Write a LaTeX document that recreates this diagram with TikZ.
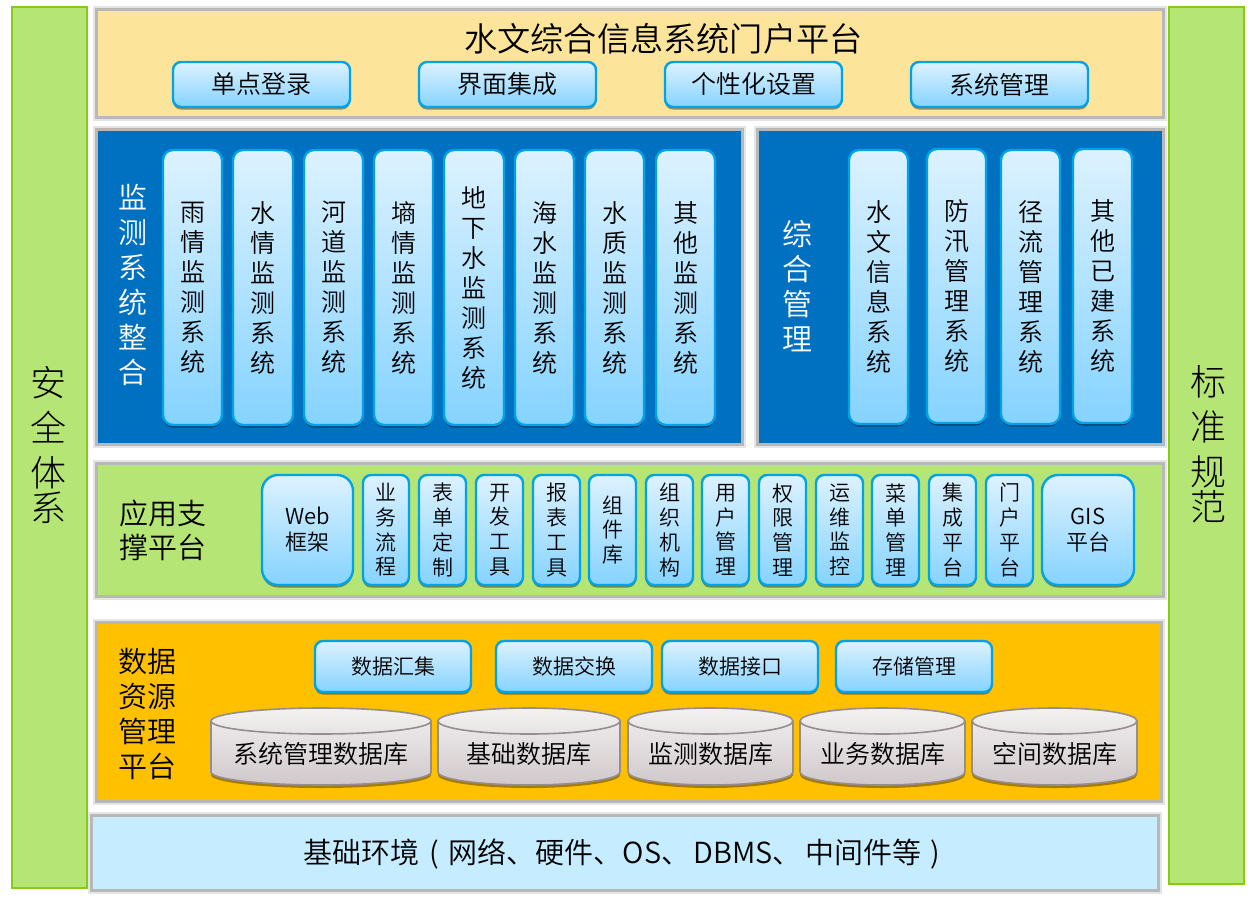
\documentclass[tikz,border=0pt]{standalone}
\usepackage{fontspec}
\setmainfont{Noto Sans CJK SC DemiLight}
\newfontfamily\thincjk{Noto Sans CJK SC Light}
\usetikzlibrary{shadows}
\definecolor{grn}{HTML}{B5E575}
\definecolor{grnb}{HTML}{84CC16}
\definecolor{yel}{HTML}{FCE59A}
\definecolor{blu}{HTML}{0070C0}
\definecolor{org}{HTML}{FFC000}
\definecolor{sky}{HTML}{C5ECFF}
\definecolor{frm}{HTML}{B8B8B8}
\definecolor{btop}{HTML}{DDF2FF}
\definecolor{bbot}{HTML}{85D3FF}
\definecolor{bline}{HTML}{00A3E8}
\definecolor{ctop}{HTML}{F3F1F1}
\definecolor{cbot}{HTML}{D0C8CA}
\definecolor{cline}{HTML}{958D90}
\newcommand{\fs}[2]{\fontsize{#1}{#2}\selectfont}
\newcommand{\pbx}[7]{%
  \pgfmathsetmacro{\pw}{#5-#3}\pgfmathsetmacro{\ph}{#6-#4}%
  \pgfmathsetmacro{\pcx}{(#3+#5)/2}\pgfmathsetmacro{\pcy}{(#4+#6)/2}%
  \node[#2,minimum width=\pw pt,minimum height=\ph pt] (#1) at (\pcx,\pcy) {#7};}
\newcommand{\cyl}[6]{%
  \pgfmathsetmacro{\prx}{(#3-#2)/2}\pgfmathsetmacro{\pcx}{(#2+#3)/2}%
  \path[cylbody,drop shadow={shadow xshift=0pt,shadow yshift=-3pt,opacity=.35,fill=black}]
    (#2,#4+13) arc[start angle=180,end angle=0,x radius=\prx pt,y radius=13pt]
    -- (#3,#5-13) arc[start angle=0,end angle=-180,x radius=\prx pt,y radius=13pt] -- cycle;
  \draw[draw=cline,line width=1.6pt] (#2,#4+13) arc[start angle=180,end angle=360,x radius=\prx pt,y radius=13pt];
  \node[cyltext] (#1) at (\pcx,754) {#6};}
\tikzset{
  frame/.style={draw=frm,line width=3pt,inner sep=0pt,outer sep=0pt,preaction={draw=black,opacity=.10,line width=7pt}},
  side/.style={draw=grnb,fill=grn,line width=2pt,inner sep=0pt,outer sep=0pt},
  sidetext/.style={inner sep=0pt,align=center,font=\thincjk\fs{36}{45}},
  btn/.style={draw=bline,line width=2.4pt,top color=btop,bottom color=bbot,rounded corners=#1,inner sep=0pt,outer sep=0pt,align=center,
    drop shadow={shadow xshift=0pt,shadow yshift=-2.5pt,opacity=.4,fill=black}},
  btn/.default=8pt,
  ttl/.style={inner sep=0pt,align=center},
  cylbody/.style={draw=cline,line width=1.6pt,top color=ctop,bottom color=cbot},
  cyltext/.style={inner sep=0pt,font=\fs{25}{30}},
  col/.style={btn=10pt,font=\fs{25}{30}},
  mini/.style={btn=8pt,font=\fs{21}{24.7}},
  big/.style={btn=16pt,font=\fs{22}{26}},
}
\begin{document}
\begin{tikzpicture}[x=1pt,y=-1pt]
\useasboundingbox (0,0) rectangle (1256,900);
\fill[white] (0,0) rectangle (1256,900);
% side bars
\pbx{safe}{side}{12}{7}{87}{888}{}
\node[sidetext] (safet) at (48,445.5) {安\\全\\体\\[-10pt]系};
\pbx{std}{side}{1169}{7}{1244}{884}{}
\node[sidetext] (stdt) at (1208,444.5) {标\\准\\规\\[-10pt]范};
% portal
\pbx{portal}{frame,fill=yel}{96}{9.5}{1163.5}{117.5}{}
\node[ttl,font=\fs{33.2}{38}] (portalt) at (663.5,39) {水文综合信息系统门户平台};
\pbx{p1}{btn,font=\fs{25}{30}}{173}{62}{350}{107}{\raisebox{-1pt}{单点登录}}
\pbx{p2}{btn,font=\fs{25}{30}}{419}{62}{596}{107}{\raisebox{-1pt}{界面集成}}
\pbx{p3}{btn,font=\fs{25}{30}}{665}{62}{842}{107}{\raisebox{-1pt}{个性化设置}}
\pbx{p4}{btn,font=\fs{25}{30}}{911}{62}{1088}{107}{\raisebox{-1pt}{系统管理}}
% monitoring
\pbx{mon}{frame,fill=blu}{96}{129.5}{742}{444.5}{}
\node[ttl,white,font=\fs{29}{35}] (mont) at (133,285) {监\\测\\系\\统\\整\\合};
\pbx{m1}{col}{163}{150}{222}{425}{雨\\情\\监\\测\\系\\统}
\pbx{m2}{col}{233}{150}{293}{425}{水\\情\\监\\测\\系\\统}
\pbx{m3}{col}{304}{150}{363}{425}{河\\道\\监\\测\\系\\统}
\pbx{m4}{col}{374}{150}{433}{425}{墒\\情\\监\\测\\系\\统}
\pbx{m5}{col}{444}{150}{504}{425}{地\\下\\水\\监\\测\\系\\统}
\pbx{m6}{col}{515}{150}{574}{425}{海\\水\\监\\测\\系\\统}
\pbx{m7}{col}{585}{150}{644}{425}{水\\质\\监\\测\\系\\统}
\pbx{m8}{col}{656}{150}{715}{425}{其\\他\\监\\测\\系\\统}
% management
\pbx{mgt}{frame,fill=blu}{757}{129.5}{1163.5}{444.5}{}
\node[ttl,white,font=\fs{30}{35}] (mgtt) at (797,286) {综\\合\\管\\理};
\pbx{g1}{col}{849}{150}{908}{424}{水\\文\\信\\息\\系\\统}
\pbx{g2}{col}{927}{149}{986}{423}{防\\汛\\管\\理\\系\\统}
\pbx{g3}{col}{1001}{150}{1060}{424}{径\\流\\管\\理\\系\\统}
\pbx{g4}{col}{1073}{149}{1132}{423}{其\\他\\已\\建\\系\\统}
% support
\pbx{sup}{frame,fill=grn}{96}{463.5}{1163.5}{596.5}{}
\node[ttl,font=\fs{29}{34}] (supt) at (163,530) {应用支\\撑平台};
\pbx{s0}{big}{262}{475}{353}{585}{Web\\框架}
\pbx{s1}{mini}{363}{475}{409}{585}{业\\务\\流\\程}
\pbx{s2}{mini}{419}{475}{466}{585}{表\\单\\定\\制}
\pbx{s3}{mini}{476}{475}{523}{585}{开\\发\\工\\具}
\pbx{s4}{mini}{533}{475}{580}{585}{报\\表\\工\\具}
\pbx{s5}{mini}{589}{475}{636}{585}{组\\件\\库}
\pbx{s6}{mini}{646}{475}{693}{585}{组\\织\\机\\构}
\pbx{s7}{mini}{702}{475}{749}{585}{用\\户\\管\\理}
\pbx{s8}{mini}{759}{475}{806}{585}{权\\限\\管\\理}
\pbx{s9}{mini}{816}{475}{863}{585}{运\\维\\监\\控}
\pbx{s10}{mini}{872}{475}{919}{585}{菜\\单\\管\\理}
\pbx{s11}{mini}{929}{475}{976}{585}{集\\成\\平\\台}
\pbx{s12}{mini}{986}{475}{1033}{585}{门\\户\\平\\台}
\pbx{s13}{big}{1042}{475}{1134}{585}{GIS\\平台}
% data
\pbx{dat}{frame,fill=org}{96}{622}{1161.5}{801}{}
\node[ttl,font=\fs{29}{35}] (datt) at (147,714) {数据\\资源\\管理\\平台};
\pbx{d1}{btn,font=\fs{21}{26}}{315}{641}{471}{692}{数据汇集}
\pbx{d2}{btn,font=\fs{21}{26}}{496}{641}{652}{692}{数据交换}
\pbx{d3}{btn,font=\fs{21}{26}}{662}{641}{818}{692}{数据接口}
\pbx{d4}{btn,font=\fs{21}{26}}{836}{641}{992}{692}{存储管理}
\cyl{c1}{211}{431}{708}{785}{系统管理数据库}
\cyl{c2}{438}{620}{708}{785}{基础数据库}
\cyl{c3}{628}{793}{708}{785}{监测数据库}
\cyl{c4}{800}{965}{708}{785}{业务数据库}
\cyl{c5}{972}{1137}{708}{785}{空间数据库}
% base
\pbx{base}{frame,fill=sky}{91}{815.5}{1158.5}{890.5}{}
\node[ttl,anchor=west,font=\fs{29}{34}] (baset) at (303,854) {基础环境\hspace{10pt}(\hspace{10pt}网络、硬件、OS、\hspace{3pt}DBMS、\hspace{4pt}中间件等\hspace{9pt})};
\end{tikzpicture}
\end{document}
